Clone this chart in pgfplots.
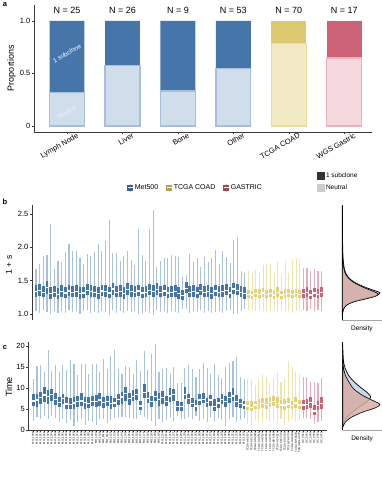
\documentclass[border=0pt]{standalone}
\usepackage{fontspec}
\setmainfont{Liberation Sans}
\setsansfont{Liberation Sans}
\usepackage{pgfplots}
\usepackage{pgfplotstable}
\pgfplotsset{compat=1.18}

\definecolor{blueD}{HTML}{4575A9}
\definecolor{blueL}{HTML}{D0DDEB}
\definecolor{blueB}{HTML}{A7BFDA}
\definecolor{blueW}{HTML}{A9C2DD}
\definecolor{yellD}{HTML}{DDCA70}
\definecolor{yellL}{HTML}{F2EAC4}
\definecolor{yellB}{HTML}{EBDC9A}
\definecolor{yellW}{HTML}{EFE4AE}
\definecolor{yellBox}{HTML}{E3D17E}
\definecolor{redD}{HTML}{CC6276}
\definecolor{redL}{HTML}{F4D8DE}
\definecolor{redB}{HTML}{E9B2BD}
\definecolor{redW}{HTML}{E6ADB8}
\definecolor{axisgray}{HTML}{3A3A3A}
\definecolor{densBlue}{HTML}{C9DAEE}
\definecolor{densPink}{HTML}{D6ADA4}

% ---------- panel b data (1 + s) ----------
\pgfplotstableread{
x lo q1 med q3 hi
0 1.04 1.26 1.34 1.43 1.675
1 1.02 1.27 1.36 1.45 1.745
2 1.06 1.25 1.33 1.42 1.875
3 1.03 1.30 1.40 1.50 1.88
4 1.00 1.23 1.31 1.40 2.345
5 1.05 1.25 1.33 1.42 1.675
6 1.01 1.22 1.30 1.39 1.80
7 1.04 1.26 1.34 1.43 1.78
8 1.02 1.24 1.32 1.41 1.93
9 1.06 1.27 1.35 1.44 2.05
10 1.03 1.25 1.33 1.42 1.95
11 1.05 1.26 1.34 1.43 1.95
12 1.00 1.23 1.31 1.40 1.84
13 1.04 1.24 1.32 1.41 1.75
14 1.06 1.28 1.36 1.45 1.90
15 1.02 1.26 1.34 1.43 1.87
16 1.03 1.25 1.33 1.42 1.925
17 1.01 1.23 1.31 1.40 2.05
18 1.05 1.27 1.35 1.44 1.95
19 1.03 1.26 1.34 1.43 2.10
20 0.99 1.24 1.32 1.41 2.41
21 1.06 1.29 1.38 1.47 1.92
22 1.02 1.25 1.33 1.42 1.92
23 1.04 1.26 1.34 1.43 1.80
24 1.01 1.23 1.31 1.40 1.87
25 1.05 1.28 1.37 1.46 1.94
26 1.03 1.26 1.34 1.43 1.805
27 1.04 1.25 1.33 1.42 1.735
28 1.00 1.27 1.35 1.44 2.27
29 1.02 1.24 1.32 1.41 1.89
30 1.05 1.25 1.33 1.42 1.79
31 1.01 1.28 1.36 1.45 2.27
32 0.98 1.26 1.34 1.43 2.56
33 1.06 1.29 1.37 1.46 1.70
34 1.03 1.25 1.33 1.42 1.80
35 1.04 1.27 1.35 1.44 1.84
36 1.02 1.24 1.32 1.41 1.84
37 1.05 1.25 1.33 1.42 1.885
38 1.03 1.26 1.34 1.43 1.87
39 1.01 1.23 1.31 1.40 1.86
40 1.07 1.21 1.28 1.36 1.55
41 1.08 1.31 1.39 1.48 1.59
42 1.02 1.25 1.33 1.42 1.90
43 1.04 1.26 1.34 1.43 1.78
44 1.03 1.24 1.32 1.41 1.84
45 1.06 1.28 1.36 1.45 1.71
46 1.02 1.25 1.33 1.42 1.85
47 1.04 1.26 1.34 1.43 1.78
48 1.01 1.23 1.31 1.40 1.84
49 1.03 1.27 1.35 1.44 1.96
50 1.05 1.25 1.33 1.42 1.75
51 1.02 1.26 1.34 1.43 1.95
52 1.04 1.28 1.36 1.45 1.85
53 1.06 1.24 1.32 1.41 1.76
54 1.00 1.30 1.38 1.47 2.11
55 1.02 1.28 1.36 1.45 2.15
56 1.05 1.25 1.33 1.42 1.65
57 1.07 1.23 1.31 1.40 1.61
}\bMet
\pgfplotstableread{
x lo q1 med q3 hi
58 1.05 1.24 1.30 1.36 1.65
59 1.07 1.23 1.29 1.35 1.62
60 1.04 1.25 1.31 1.38 1.66
61 1.06 1.24 1.30 1.37 1.63
62 1.03 1.26 1.32 1.39 1.73
63 1.05 1.24 1.30 1.36 1.75
64 1.04 1.25 1.31 1.38 1.75
65 1.07 1.23 1.29 1.35 1.62
66 1.03 1.26 1.33 1.40 1.78
67 1.06 1.23 1.29 1.35 1.58
68 1.04 1.24 1.30 1.37 1.80
69 1.05 1.25 1.31 1.37 1.62
70 1.03 1.24 1.30 1.36 1.81
71 1.04 1.25 1.31 1.38 1.84
72 1.05 1.24 1.30 1.36 1.82
}\bTcga
\pgfplotstableread{
x lo q1 med q3 hi
73 1.06 1.24 1.31 1.38 1.69
74 1.05 1.26 1.33 1.40 1.69
75 1.07 1.23 1.29 1.36 1.64
76 1.04 1.25 1.32 1.39 1.67
77 1.06 1.24 1.30 1.37 1.65
78 1.05 1.26 1.33 1.40 1.64
}\bGas

% ---------- panel c data (Time) ----------
\pgfplotstableread{
x lo q1 med q3 hi
0 2.2 5.6 7.0 8.5 12.1
1 3.0 5.5 7.2 8.6 15.3
2 2.7 6.2 7.8 9.0 15.5
3 3.4 6.6 8.4 10.3 13.8
4 2.5 6.3 8.0 9.5 19.0
5 3.3 7.0 8.5 9.8 14.0
6 2.8 6.0 7.3 8.8 15.5
7 1.8 5.4 6.6 7.8 13.7
8 2.6 6.3 7.6 8.6 15.5
9 1.6 5.0 6.3 7.8 14.2
10 2.4 5.0 6.2 7.6 16.7
11 1.0 5.0 6.5 7.8 15.7
12 2.0 5.4 6.8 8.1 13.0
13 2.5 5.6 7.0 8.9 15.7
14 1.2 5.0 6.6 7.8 15.7
15 2.2 5.3 6.4 7.8 13.2
16 2.0 5.8 6.8 8.0 15.6
17 1.1 5.5 6.8 8.3 15.6
18 2.5 5.8 7.2 8.7 13.7
19 2.7 5.3 6.6 7.9 16.8
20 1.6 5.6 6.9 8.2 14.5
21 2.4 5.0 6.4 8.0 17.7
22 2.8 5.4 6.5 7.7 19.0
23 3.2 5.9 7.4 8.6 14.6
24 3.0 6.3 7.9 9.1 13.3
25 3.1 6.8 8.7 10.2 15.3
26 2.9 6.0 7.5 8.7 15.0
27 2.6 6.8 8.1 9.4 13.4
28 2.5 7.2 8.5 9.8 16.6
29 3.6 4.8 5.8 6.9 14.0
30 3.0 7.5 9.0 11.0 18.9
31 2.5 6.5 7.5 9.0 14.2
32 2.2 5.4 6.8 8.2 18.0
33 1.0 6.8 8.0 9.3 20.5
34 2.6 5.6 7.4 8.9 13.9
35 2.0 6.2 7.8 9.2 14.4
36 2.4 5.6 6.8 8.0 14.8
37 2.8 6.6 8.2 10.0 13.3
38 2.1 6.8 8.5 9.8 15.0
39 3.3 4.6 5.6 6.8 11.2
40 2.6 4.5 5.6 6.6 11.1
41 2.5 7.3 8.6 10.3 14.8
42 3.2 6.3 7.6 8.6 15.4
43 2.7 5.4 6.4 7.6 14.4
44 3.4 4.6 5.8 7.2 12.6
45 2.1 6.0 7.2 8.6 14.6
46 2.6 6.4 7.4 8.8 16.0
47 1.9 5.4 6.6 7.6 14.7
48 3.1 5.8 7.2 8.4 13.2
49 2.0 4.6 5.6 7.3 15.8
50 2.8 5.2 6.5 7.5 13.0
51 2.4 6.1 7.3 8.5 12.3
52 1.0 5.4 6.8 8.1 15.1
53 2.6 6.5 7.8 9.0 15.9
54 3.2 6.8 8.2 10.0 16.5
55 1.8 5.5 6.9 8.4 17.4
56 2.3 5.2 6.4 7.4 12.7
57 2.9 5.0 6.0 7.0 12.1
}\cMet
\pgfplotstableread{
x lo q1 med q3 hi
58 1.5 4.8 5.8 7.0 12.1
59 1.2 4.4 5.5 6.8 11.9
60 2.4 5.0 6.0 7.0 10.7
61 1.6 4.9 6.1 7.4 12.1
62 2.0 5.3 6.4 7.6 13.1
63 2.6 5.0 6.2 7.5 12.7
64 1.8 5.4 6.6 7.8 11.1
65 2.2 5.6 6.9 8.2 12.3
66 1.4 5.2 6.4 7.8 13.9
67 2.5 5.0 6.0 7.2 11.5
68 1.1 4.8 6.0 7.4 12.1
69 2.0 5.2 6.3 7.5 16.5
70 2.6 4.9 5.9 7.0 14.9
71 1.9 5.3 6.5 7.8 13.9
72 2.3 4.9 6.0 7.2 13.3
}\cTcga
\pgfplotstableread{
x lo q1 med q3 hi
73 2.8 4.8 6.0 7.2 12.7
74 2.9 5.0 6.2 7.4 12.5
75 2.5 5.3 6.6 7.8 11.5
76 1.4 3.6 4.6 6.0 11.3
77 2.0 4.8 5.9 7.0 11.2
78 2.2 5.0 6.4 7.8 12.3
}\cGas

% ---------- density data ----------
\pgfplotstableread{
d v
0 2.62
0.005 2.3
0.01 2.0
0.025 1.8
0.06 1.66
0.14 1.56
0.30 1.48
0.55 1.41
0.78 1.36
0.96 1.32
0.88 1.28
0.62 1.24
0.35 1.20
0.15 1.15
0.05 1.10
0.01 1.03
0 0.96
}\dbBlue
\pgfplotstableread{
d v
0 2.2
0.01 1.85
0.04 1.68
0.10 1.58
0.25 1.49
0.50 1.41
0.75 1.35
0.92 1.30
0.82 1.26
0.55 1.22
0.28 1.18
0.10 1.13
0.03 1.07
0 0.98
}\dbPink
\pgfplotstableread{
d v
0 20.3
0.02 16.5
0.06 14.8
0.15 13.0
0.28 11.6
0.45 10.2
0.62 9.0
0.72 8.0
0.70 7.3
0.55 6.3
0.35 5.0
0.16 3.6
0.05 2.2
0 0.8
}\dcBlue
\pgfplotstableread{
d v
0 16.0
0.05 13.5
0.13 11.9
0.28 9.8
0.52 8.2
0.78 7.0
0.96 6.1
0.85 5.3
0.50 4.2
0.22 3.0
0.07 1.9
0 0.6
}\dcPink

\pgfplotsset{
  errbar/.style 2 args={only marks, mark=*, mark size=0pt,
    mark options={draw=none, fill=none}, forget plot,
    error bars/y dir=both, error bars/y explicit, error bars/error mark=none,
    error bars/error bar style={line width=#2, color=#1, solid}},
  baseax/.style={scale only axis, axis line style={line width=0.6pt, color=axisgray, -},
    tick style={line width=0.5pt, color=axisgray}, tick align=outside,
    major tick length=2.2pt},
}
\newcommand{\whisker}[2]{\addplot[errbar={#2}{1.1pt}] table[x=x, y=med, y error plus expr=\thisrow{hi}-\thisrow{med}, y error minus expr=\thisrow{med}-\thisrow{lo}] {#1};}
\newcommand{\boxq}[2]{\addplot[errbar={#2}{2.7pt}] table[x=x, y=med, y error plus expr=\thisrow{q3}-\thisrow{med}, y error minus expr=\thisrow{med}-\thisrow{q1}] {#1};}
\newcommand{\medline}[2]{\addplot[errbar={white}{2.7pt}] table[x=x, y=med, y error plus expr=#2, y error minus expr=#2] {#1};}

\begin{document}
\begin{tikzpicture}
\useasboundingbox (0pt,0pt) rectangle (382pt,480pt);

% ================= panel a =================
\begin{axis}[baseax, at={(34.3pt,348pt)}, anchor=south west,
  width=337.7pt, height=127pt,
  xmin=-0.59, xmax=5.5, ymin=-0.057, ymax=1.15,
  axis x line*=bottom, axis y line*=left,
  xtick={0,1,2,3,4,5},
  xticklabels={Lymph Node, Liver, Bone, Other, TCGA COAD, WGS Gastric},
  ytick={0,0.5,1}, yticklabels={0,0.5,1.0},
  xticklabel style={rotate=30, anchor=north east, inner sep=0pt,
    font=\fontsize{7.5}{8}\selectfont, xshift=9pt, yshift=-3pt},
  yticklabel style={font=\fontsize{7.5}{8}\selectfont, inner sep=1.5pt},
  ybar, bar width=0.63, bar shift=0pt, clip=false]
\addplot[fill=blueD, draw=none] coordinates {(0,1) (1,1) (2,1) (3,1)};
\addplot[fill=yellD, draw=none] coordinates {(4,1)};
\addplot[fill=redD, draw=none] coordinates {(5,1)};
\addplot[fill=blueL, draw=blueB, line width=1.2pt] coordinates {(0,0.32) (1,0.577) (2,0.333) (3,0.547)};
\addplot[fill=yellL, draw=yellB, line width=1.2pt] coordinates {(4,0.786)};
\addplot[fill=redL, draw=redB, line width=1.2pt] coordinates {(5,0.647)};
\foreach \i/\n in {0/25,1/26,2/9,3/53,4/70,5/17}{
  \edef\tmp{\noexpand\node[font=\noexpand\fontsize{9}{10}\noexpand\selectfont] at (axis cs:\i,1.095) {N = \n};}\tmp
}
\node[rotate=30, text=white, font=\fontsize{6.5}{7}\selectfont] at (axis cs:0.0,0.69) {1 subclone};
\node[rotate=30, text=white, font=\fontsize{6.5}{7}\selectfont, opacity=0.6] at (axis cs:0.0,0.13) {Neutral};
\end{axis}

% ================= panel b =================
\begin{axis}[baseax, at={(32.3pt,160pt)}, anchor=south west,
  width=294.4pt, height=115pt,
  xmin=-1.01, xmax=79.37, ymin=0.911, ymax=2.635,
  axis x line=none, axis y line*=left,
  ytick={1,1.5,2,2.5}, yticklabels={1.0,1.5,2.0,2.5},
  yticklabel style={font=\fontsize{7.5}{8}\selectfont, inner sep=1.5pt},
  clip=false,
  legend columns=3, legend cell align=left,
  legend style={draw=none, fill=none, at={(0.555,1.15)}, anchor=center,
    font=\fontsize{7}{8}\selectfont, inner sep=0pt,
    /tikz/every even column/.append style={column sep=6pt}}]
\addlegendimage{legend image code/.code={
  \draw[blueW, line width=0.8pt] (2.5pt,-4pt)--(2.5pt,4pt);
  \fill[blueD!85!black] (0pt,-2.6pt) rectangle (5pt,2.6pt);
  \draw[white, line width=0.5pt] (0pt,0pt)--(5pt,0pt);}}
\addlegendentry{Met500}
\addlegendimage{legend image code/.code={
  \draw[yellW, line width=0.8pt] (2.5pt,-4pt)--(2.5pt,4pt);
  \fill[yellD!80!black] (0pt,-2.6pt) rectangle (5pt,2.6pt);
  \draw[white, line width=0.5pt] (0pt,0pt)--(5pt,0pt);}}
\addlegendentry{TCGA COAD}
\addlegendimage{legend image code/.code={
  \draw[redW, line width=0.8pt] (2.5pt,-4pt)--(2.5pt,4pt);
  \fill[redD!75!black] (0pt,-2.6pt) rectangle (5pt,2.6pt);
  \draw[white, line width=0.5pt] (0pt,0pt)--(5pt,0pt);}}
\addlegendentry{GASTRIC}
\whisker{\bMet}{blueW}
\whisker{\bTcga}{yellW}
\whisker{\bGas}{redW}
\boxq{\bMet}{blueD}
\boxq{\bTcga}{yellBox}
\boxq{\bGas}{redD}
\medline{\bMet}{0.006}
\medline{\bTcga}{0.006}
\medline{\bGas}{0.006}
\end{axis}

% density b
\begin{axis}[baseax, at={(342.3pt,160pt)}, anchor=south west,
  width=39.2pt, height=115pt,
  xmin=0, xmax=1, ymin=0.911, ymax=2.635,
  axis x line*=bottom, axis y line*=left,
  x axis line style={color=gray!70, line width=0.8pt},
  y axis line style={color=black, line width=0.7pt},
  xtick=\empty, ytick=\empty,
  xlabel={Density},
  xlabel style={at={(axis description cs:0.5,0)}, anchor=north, yshift=-6pt,
    inner sep=0pt, font=\fontsize{6.5}{7}\selectfont},
  clip=false,
  legend cell align=left,
  legend style={draw=none, fill=none, at={(-0.66,1.30)}, anchor=north west,
    font=\fontsize{6.5}{7}\selectfont, inner sep=0pt, row sep=1.5pt}]
\addlegendimage{legend image code/.code={\fill[black!80] (0pt,-3.6pt) rectangle (7pt,3.6pt);}}
\addlegendentry{1 subclone}
\addlegendimage{legend image code/.code={\fill[black!20] (0pt,-3.6pt) rectangle (7pt,3.6pt);}}
\addlegendentry{Neutral}
\addplot[forget plot, smooth, tension=0.5, fill=densBlue, draw=black, line width=0.7pt] table[x=d, y=v] {\dbBlue} -- cycle;
\addplot[forget plot, smooth, tension=0.5, fill=densPink, fill opacity=0.85, draw=black, line width=0.6pt] table[x=d, y=v] {\dbPink} -- cycle;
\end{axis}

% ================= panel c =================
\begin{axis}[baseax, at={(28.3pt,50pt)}, anchor=south west,
  width=298.4pt, height=88.3pt,
  xmin=-1.35, xmax=79.35, ymin=0, ymax=21,
  axis x line*=bottom, axis y line*=left,
  ytick={0,5,10,15,20}, yticklabels={0,5,10,15,20},
  yticklabel style={font=\fontsize{7.5}{8}\selectfont, inner sep=1.5pt},
  xtick={0,...,78},
  xticklabels={MO\_1008,MO\_1013,MO\_1017,MO\_1021,MO\_1029,MO\_1034,MO\_1040,MO\_1046,MO\_1051,MO\_1057,
    MO\_1063,MO\_1069,MO\_1074,MO\_1080,MO\_1085,MO\_1091,MO\_1097,MO\_1102,MO\_1108,MO\_1114,
    MO\_1119,MO\_1125,MO\_1131,MO\_1136,MO\_1142,MO\_1148,MO\_1153,MO\_1159,MO\_1165,MO\_1170,
    MO\_1176,MO\_1182,MO\_1187,MO\_1193,MO\_1199,MO\_1204,MO\_1210,MO\_1216,MO\_1221,MO\_1227,
    MO\_1233,MO\_1238,MO\_1244,MO\_1250,MO\_1255,MO\_1261,MO\_1267,MO\_1272,MO\_1278,MO\_1284,
    MO\_1289,MO\_1295,MO\_1301,MO\_1306,MO\_1312,MO\_1318,MO\_1323,MO\_1329,
    TCGA-A6-2671,TCGA-A6-2675,TCGA-A6-2682,TCGA-AA-3516,TCGA-AA-3524,TCGA-AA-3662,TCGA-AA-3672,
    TCGA-AD-6889,TCGA-AZ-4614,TCGA-CM-4744,TCGA-D5-6531,TCGA-F4-6704,TCGA-G4-6299,TCGA-NH-A50U,TCGA-QG-A5YV,
    GC\_0012,GC\_0027,GC\_0041,GC\_0058,GC\_0063,GC\_0079},
  xticklabel style={rotate=90, anchor=east, inner sep=0.2pt,
    font=\fontsize{2.7}{2.7}\selectfont},
  major tick length=1.8pt,
  clip=false]
\whisker{\cMet}{blueW}
\whisker{\cTcga}{yellW}
\whisker{\cGas}{redW}
\boxq{\cMet}{blueD}
\boxq{\cTcga}{yellBox}
\boxq{\cGas}{redD}
\medline{\cMet}{0.08}
\medline{\cTcga}{0.08}
\medline{\cGas}{0.08}
\end{axis}

% density c
\begin{axis}[baseax, at={(342.7pt,50pt)}, anchor=south west,
  width=38.8pt, height=88.3pt,
  xmin=0, xmax=1, ymin=0, ymax=21,
  axis x line*=bottom, axis y line*=left,
  x axis line style={color=gray!70, line width=0.8pt},
  y axis line style={color=black, line width=0.7pt},
  xtick=\empty, ytick=\empty,
  xlabel={Density},
  xlabel style={at={(axis description cs:0.5,0)}, anchor=north, yshift=-6pt,
    inner sep=0pt, font=\fontsize{6.5}{7}\selectfont},
  clip=false]
\addplot[smooth, tension=0.5, fill=densBlue, draw=black, line width=0.7pt] table[x=d, y=v] {\dcBlue} -- cycle;
\addplot[smooth, tension=0.5, fill=densPink, fill opacity=0.85, draw=black, line width=0.6pt] table[x=d, y=v] {\dcPink} -- cycle;
\end{axis}

% panel letters and axis titles
\node[font=\bfseries\fontsize{7.5}{8}\selectfont] at (5pt,475pt) {a};
\node[font=\bfseries\fontsize{7.5}{8}\selectfont] at (5pt,278pt) {b};
\node[font=\bfseries\fontsize{7.5}{8}\selectfont] at (5pt,132pt) {c};
\node[rotate=90, font=\fontsize{9}{10}\selectfont] at (11.5pt,412pt) {Proportions};
\node[rotate=90, font=\fontsize{8.5}{9}\selectfont] at (9pt,215pt) {1 + s};
\node[rotate=90, font=\fontsize{9}{10}\selectfont] at (9pt,93pt) {Time};
\end{tikzpicture}
\end{document}
